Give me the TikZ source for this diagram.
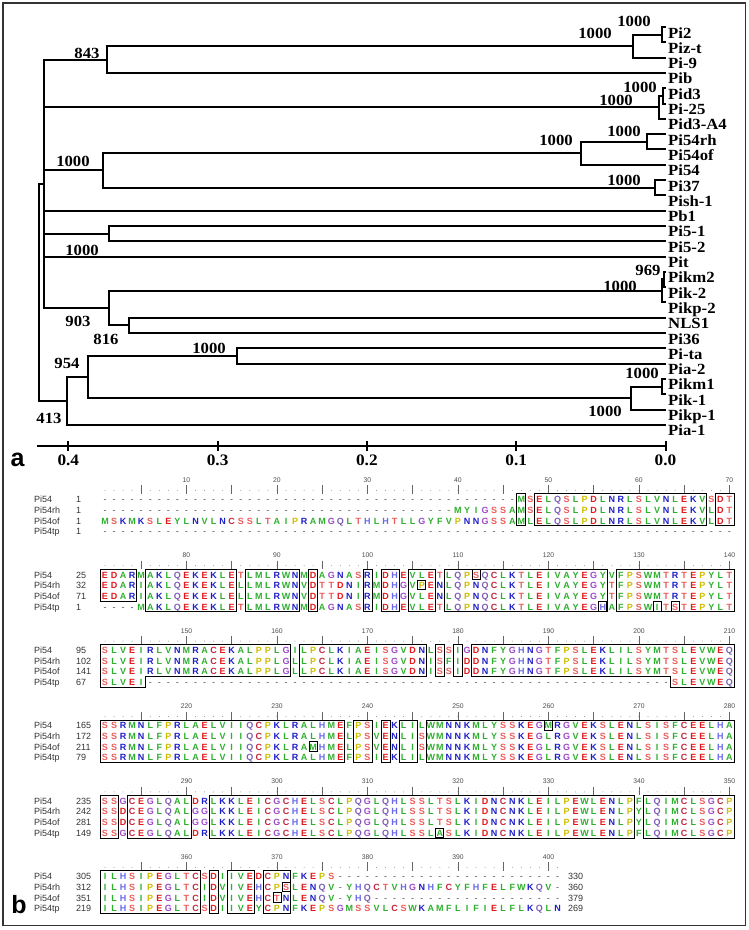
\documentclass[tikz,border=0pt]{standalone}
\usepackage{fontspec}
\setmainfont{Liberation Serif}
\setsansfont{Liberation Sans}
\definecolor{hgreen}{HTML}{2EAF2E}
\definecolor{acid}{HTML}{E3191C}
\definecolor{hydrox}{HTML}{EE5B5B}
\definecolor{basic}{HTML}{1E1EC8}
\colorlet{resA}{hgreen}\colorlet{resV}{hgreen}\colorlet{resL}{hgreen}\colorlet{resI}{hgreen}
\colorlet{resM}{hgreen}\colorlet{resF}{hgreen}\colorlet{resW}{hgreen}\colorlet{resY}{hgreen}
\colorlet{resD}{acid}\colorlet{resE}{acid}
\colorlet{resS}{hydrox}\colorlet{resT}{hydrox}
\colorlet{resK}{basic}\colorlet{resR}{basic}\colorlet{resN}{basic}
\definecolor{resQ}{HTML}{7D5DB5}
\definecolor{resH}{HTML}{6A6AE8}
\definecolor{resG}{HTML}{9C4CC8}
\definecolor{resP}{HTML}{CDBE00}
\definecolor{resC}{HTML}{C3283F}
\newcommand\sx[1]{\scalebox{1.08}[1]{#1}}
\newcount\colc
\def\seqloop#1{\ifx#1\relax\else\seqput#1\expandafter\seqloop\fi}
\def\seqput#1{\global\advance\colc by 1\relax\ifx#1-\gapput\else\resput#1\fi}
\def\resput#1{\node[resch,text=res#1] at ({105+(\the\colc-1)*9.05},\rowyb) {#1};}
\def\gapput{\node[gapch] at ({105+(\the\colc-1)*9.05},\rowyb) {-};}
\newcommand\Blk[1]{\pgfmathsetmacro\B{499.3+75.4*#1}}
\newcommand\seqat[3]{\pgfmathsetmacro\rowyb{\B+(#1-1)*10.7+3.3}\global\colc=\numexpr#2-1\relax\seqloop#3\relax}
\newcommand\gapsat[3]{\pgfmathsetmacro\rowyb{\B+(#1-1)*10.7+3.3}\foreach \cc in {#2,...,#3}{\node[gapch] at ({105+(\cc-1)*9.05},\rowyb) {-};}}
\newcommand\rowlab[3]{\pgfmathsetmacro\rowyb{\B+(#1-1)*10.7+3.3}\node[rname] at (34,\rowyb) {#2};\node[rname] at (76,\rowyb) {#3};}
\newcommand\tailnum[2]{\pgfmathsetmacro\rowyb{\B+(#1-1)*10.7+3.3}\node[rname] at (568,\rowyb) {#2};}
\newcommand\ruler[2]{%
 \foreach \cc in {1,...,#1}{\fill[rdot] ({105+(\cc-1)*9.05},{\B-9}) circle (0.5pt);}
 \foreach \cc in {5,10,...,#1}{\draw[rtick] ({105+(\cc-1)*9.05},{\B-14}) -- ({105+(\cc-1)*9.05},{\B-5.5});}
 \foreach \cc in {10,20,...,#1}{\node[rnum] at ({105+(\cc-1)*9.05},{\B-17}) {\the\numexpr#2+\cc\relax};}}
\newcommand\xl[1]{(105+(#1-1)*9.05-4.5)}
\newcommand\xr[1]{(105+(#1-1)*9.05+4.5)}
\newcommand\abox[4]{\draw[boxl] ({\xl{#1}},{\B+(#3-1)*10.7-5.5}) rectangle ({\xr{#2}},{\B+(#4-1)*10.7+5});}
\newcommand\obox[2]{\draw[boxl] ({105+(#1-1)*9.05-4},{\B+(#2-1)*10.7-5}) rectangle ({105+(#1-1)*9.05+4},{\B+(#2-1)*10.7+4.5});}
\begin{document}
\begin{tikzpicture}[x=1pt,y=-1pt,
 br/.style={line width=2pt,line cap=rect,line join=miter},
 leaf/.style={anchor=base west,inner sep=0,font=\fontsize{15.5}{15.5}\selectfont\bfseries},
 bs/.style={inner sep=0,font=\fontsize{15.5}{15.5}\selectfont\bfseries},
 axl/.style={inner sep=0,font=\fontsize{16}{16}\selectfont\bfseries},
 panel/.style={anchor=base,inner sep=0,font=\fontsize{25}{25}\selectfont\sffamily\bfseries},
 rname/.style={anchor=base west,inner sep=0,font=\fontsize{9}{9}\selectfont\sffamily,text=black!80},
 resch/.style={anchor=base,inner sep=0,font=\fontsize{9}{9}\selectfont\sffamily\bfseries},
 gapch/.style={anchor=base,inner sep=0,font=\fontsize{9}{9}\selectfont\sffamily,text=black!70},
 rnum/.style={anchor=base,inner sep=0,font=\fontsize{6.8}{6.8}\selectfont\sffamily,text=black!70},
 rdot/.style={fill=black!45},
 rtick/.style={draw=black!60,line width=0.6pt},
 boxl/.style={draw=black,line width=0.9pt}]
\useasboundingbox (0,0) rectangle (749,930);
\fill[white] (0,0) rectangle (749,930);
\draw[line width=1.3pt,black!80] (3,3) rectangle (745.5,925.5);
% ---------- tree ----------
\foreach \i in {0,...,26} \coordinate (l\i) at (665,{27+15.3*\i});
\foreach \t [count=\i from 0] in {Pi2,Piz-t,Pi-9,Pib,Pid3,Pi-25,Pid3-A4,Pi54rh,Pi54of,Pi54,Pi37,Pish-1,Pb1,Pi5-1,Pi5-2,Pit,Pikm2,Pik-2,Pikp-2,NLS1,Pi36,Pi-ta,Pia-2,Pikm1,Pik-1,Pikp-1,Pia-1}
  \node[leaf] (name\i) at (668,{27+15.3*\i+11}) {\sx{\t}};
\coordinate (nA) at (661.7,34.65);
\coordinate (nB) at (632.5,46.125);
\coordinate (n843) at (107.4,59.51);
\coordinate (nC) at (662.5,95.85);
\coordinate (nD) at (659.2,107.325);
\coordinate (nE) at (646.8,141.75);
\coordinate (nF) at (581.4,153.225);
\coordinate (nG) at (655,187.65);
\coordinate (nH) at (102.6,170.44);
\coordinate (nI) at (108.8,233.55);
\coordinate (nJ) at (663.8,279.45);
\coordinate (nK) at (662.3,290.925);
\coordinate (n816) at (128.9,325.35);
\coordinate (n903) at (108.8,308.14);
\coordinate (nU) at (44,183.8);
\coordinate (nL) at (237.2,355.95);
\coordinate (nM) at (661.7,386.55);
\coordinate (nN) at (631,398.03);
\coordinate (n954) at (88.3,376.99);
\coordinate (n413) at (66.8,400.9);
\coordinate (nR) at (39,292.35);
\draw[br] (l0) -- (nA |- l0) -- (nA |- l1) -- (l1);
\draw[br] (nA) -- (nB |- nA) -- (nB |- l2) -- (l2);
\draw[br] (nB) -- (n843 |- nB) -- (n843 |- l3) -- (l3);
\draw[br] (l4) -- (nC |- l4) -- (nC |- l5) -- (l5);
\draw[br] (nC) -- (nD |- nC) -- (nD |- l6) -- (l6);
\draw[br] (l7) -- (nE |- l7) -- (nE |- l8) -- (l8);
\draw[br] (nE) -- (nF |- nE) -- (nF |- l9) -- (l9);
\draw[br] (l10) -- (nG |- l10) -- (nG |- l11) -- (l11);
\draw[br] (nF) -- (nH |- nF) -- (nH |- nG) -- (nG);
\draw[br] (l13) -- (nI |- l13) -- (nI |- l14) -- (l14);
\draw[br] (l16) -- (nJ |- l16) -- (nJ |- l17) -- (l17);
\draw[br] (nJ) -- (nK |- nJ) -- (nK |- l18) -- (l18);
\draw[br] (l19) -- (n816 |- l19) -- (n816 |- l20) -- (l20);
\draw[br] (nK) -- (n903 |- nK) -- (n903 |- n816) -- (n816);
\draw[br] (nU |- n843) -- (nU |- n903);
\draw[br] (nU |- n843) -- (n843);
\draw[br] (nU |- nD) -- (nD);
\draw[br] (nU |- nH) -- (nH);
\draw[br] (nU |- l12) -- (l12);
\draw[br] (nU |- nI) -- (nI);
\draw[br] (nU |- l15) -- (l15);
\draw[br] (nU |- n903) -- (n903);
\draw[br] (l21) -- (nL |- l21) -- (nL |- l22) -- (l22);
\draw[br] (l23) -- (nM |- l23) -- (nM |- l24) -- (l24);
\draw[br] (nM) -- (nN |- nM) -- (nN |- l25) -- (l25);
\draw[br] (nL) -- (n954 |- nL) -- (n954 |- nN) -- (nN);
\draw[br] (n954) -- (n413 |- n954) -- (n413 |- l26) -- (l26);
\draw[br] (nU) -- (nR |- nU) -- (nR |- n413) -- (n413);
% bootstrap values
\node[bs] (bs1) at (634,21) {\sx{1000}};
\node[bs] (bs2) at (595,33) {\sx{1000}};
\node[bs] (bs3) at (87,53) {\sx{843}};
\node[bs] (bs4) at (640,87) {\sx{1000}};
\node[bs] (bs5) at (616,100) {\sx{1000}};
\node[bs] (bs6) at (624,131.7) {\sx{1000}};
\node[bs] (bs7) at (556,140) {\sx{1000}};
\node[bs] (bs8) at (624,180) {\sx{1000}};
\node[bs] (bs9) at (73,161.7) {\sx{1000}};
\node[bs] (bs10) at (82,250) {\sx{1000}};
\node[bs] (bs11) at (648,270) {\sx{969}};
\node[bs] (bs12) at (620,286.7) {\sx{1000}};
\node[bs] (bs13) at (78,321.7) {\sx{903}};
\node[bs] (bs14) at (106,339) {\sx{816}};
\node[bs] (bs15) at (209,348.3) {\sx{1000}};
\node[bs] (bs16) at (642,373.3) {\sx{1000}};
\node[bs] (bs17) at (605,411.7) {\sx{1000}};
\node[bs] (bs18) at (67,363.3) {\sx{954}};
\node[bs] (bs19) at (49,418.3) {\sx{413}};
% axis
\coordinate (ax0) at (38,446);
\coordinate (ax1) at (665.5,446);
\draw[br] (ax0) -- (ax1);
\foreach \v/\xx in {0.4/68.3,0.3/217.6,0.2/366.9,0.1/516.2,0.0/665.5}{
  \draw[br] (\xx,442) -- (\xx,450);
  \node[axl] at (\xx,460) {\sx{\v}};}
\node[panel] (pa) at (17.5,466.5) {a};
\node[panel] (pb) at (19,913) {b};
% ---------- alignment ----------
% block 1
\Blk{0}\ruler{70}{0}
\rowlab{1}{Pi54}{1}\rowlab{2}{Pi54rh}{1}\rowlab{3}{Pi54of}{1}\rowlab{4}{Pi54tp}{1}
\gapsat{1}{1}{46}\seqat{1}{47}{MSELQSLPDLNRLSLVNLEKVSDT}
\gapsat{2}{1}{39}\seqat{2}{40}{MYIGSSAMSELQSLPDLNRLSLVNLEKVLDT}
\seqat{3}{1}{MSKMKSLEYLNVLNCSSLTAIPRAMGQLTHLHTLLGYFVPNNGSSAMLELQSLPDLNRLSLVNLEKVLDT}
\gapsat{4}{1}{70}
\abox{47}{47}{1}{3}\abox{49}{67}{1}{3}\abox{69}{70}{1}{3}
% block 2
\Blk{1}\ruler{70}{70}
\rowlab{1}{Pi54}{25}\rowlab{2}{Pi54rh}{32}\rowlab{3}{Pi54of}{71}\rowlab{4}{Pi54tp}{1}
\seqat{1}{1}{EDARMAKLQEKEKLETLMLRWNMDAGNASRIDHEVLETLQPSQCLKTLEIVAYEGYVFPSWMTRTEPYLT}
\seqat{2}{1}{EDARIAKLQEKEKLELLMLRWNVDTTDNIRMDHGVPENLQPNQCLKTLEIVAYEGYTFPSWMTRTEPYLT}
\seqat{3}{1}{EDARIAKLQEKEKLELLMLRWNVDTTDNIRMDHGVLENLQPNQCLKTLEIVAYEGYTFPSWMTRTEPYLT}
\gapsat{4}{1}{4}\seqat{4}{5}{MAKLQEKEKLETLMLRWNMDAGNASRIDHEVLETLQPNQCLKTLEIVAYEGHAFPSWITSTEPYLT}
\abox{1}{4}{1}{3}\abox{6}{15}{1}{4}\abox{17}{22}{1}{4}\abox{24}{24}{1}{4}\abox{30}{30}{1}{4}
\abox{32}{33}{1}{4}\abox{35}{37}{1}{4}\abox{39}{56}{1}{4}\abox{58}{70}{1}{4}
\obox{36}{2}\obox{42}{1}\obox{56}{4}\obox{62}{4}\obox{64}{4}
% block 3
\Blk{2}\ruler{70}{140}
\rowlab{1}{Pi54}{95}\rowlab{2}{Pi54rh}{102}\rowlab{3}{Pi54of}{141}\rowlab{4}{Pi54tp}{67}
\seqat{1}{1}{SLVEIRLVNMRACEKALPPLGILPCLKIAEISGVDNLSSIGDNFYGHNGTFPSLEKLILSYMTSLEVWEQ}
\seqat{2}{1}{SLVEIRLVNMRACEKALPPLGLLPCLKIAEISGVDNISFIDDNFYGHNGTFPSLEKLILSYMTSLEVWEQ}
\seqat{3}{1}{SLVEIRLVNMRACEKALPPLGLLPCLKIAEISGVDNISSIDDNFYGHNGTFPSLEKLILSYMTSLEVWEQ}
\seqat{4}{1}{SLVEI}\gapsat{4}{6}{63}\seqat{4}{64}{SLEVWEQ}
\draw[boxl] ({\xl{1}},{\B-5.5}) -- ({\xr{21}},{\B-5.5}) -- ({\xr{21}},{\B+26.4}) -- ({\xr{5}},{\B+26.4}) -- ({\xr{5}},{\B+37.1}) -- ({\xl{1}},{\B+37.1}) -- cycle;
\abox{23}{36}{1}{3}\abox{38}{38}{1}{3}\abox{40}{40}{1}{3}
\draw[boxl] ({\xl{42}},{\B-5.5}) -- ({\xr{70}},{\B-5.5}) -- ({\xr{70}},{\B+37.1}) -- ({\xl{64}},{\B+37.1}) -- ({\xl{64}},{\B+26.4}) -- ({\xl{42}},{\B+26.4}) -- cycle;
% block 4
\Blk{3}\ruler{70}{210}
\rowlab{1}{Pi54}{165}\rowlab{2}{Pi54rh}{172}\rowlab{3}{Pi54of}{211}\rowlab{4}{Pi54tp}{79}
\seqat{1}{1}{SSRMNLFPRLAELVIIQCPKLRALHMEFPSIEKLILWMNNKMLYSSKEGMRGVEKSLENLSISFCEELHA}
\seqat{2}{1}{SSRMNLFPRLAELVIIQCPKLRALHMELPSVENLISWMNNKMLYSSKEGLRGVEKSLENLSISFCEELHA}
\seqat{3}{1}{SSRMNLFPRLAELVIIQCPKLRAMHMELPSVENLISWMNNKMLYSSKEGLRGVEKSLENLSISFCEELHA}
\seqat{4}{1}{SSRMNLFPRLAELVIIQCPKLRALHMEFPSIEKLILWMNNKMLYSSKEGLRGVEKSLENLSISFCEELHA}
\abox{1}{27}{1}{4}\abox{29}{30}{1}{4}\abox{32}{32}{1}{4}\abox{34}{35}{1}{4}\abox{37}{70}{1}{4}
\obox{24}{3}\obox{50}{1}
% block 5
\Blk{4}\ruler{70}{280}
\rowlab{1}{Pi54}{235}\rowlab{2}{Pi54rh}{242}\rowlab{3}{Pi54of}{281}\rowlab{4}{Pi54tp}{149}
\seqat{1}{1}{SSGCEGLQALDRLKKLEICGCHELSCLPQGLQHLSSLTSLKIDNCNKLEILPEWLENLPFLQIMCLSGCP}
\seqat{2}{1}{SSDCEGLQALGGLKKLEICGCHELSCLPQGLQHLSSLTSLKIDNCNKLEILPEWLENLPYLQIMCLSGCP}
\seqat{3}{1}{SSDCEGLQALGGLKKLEICGCHELSCLPQGLQHLSSLTSLKIDNCNKLEILPEWLENLPYLQIMCLSGCP}
\seqat{4}{1}{SSGCEGLQALDRLKKLEICGCHELSCLPQGLQHLSSLASLKIDNCNKLEILPEWLENLPFLQIMCLSGCP}
\abox{1}{2}{1}{4}\abox{4}{10}{1}{4}\abox{13}{59}{1}{4}\abox{61}{70}{1}{4}
\obox{38}{4}
% block 6
\Blk{5}\ruler{51}{350}
\rowlab{1}{Pi54}{305}\rowlab{2}{Pi54rh}{312}\rowlab{3}{Pi54of}{351}\rowlab{4}{Pi54tp}{219}
\seqat{1}{1}{ILHSIPEGLTCSDIIVEDCPNFKEPS}\gapsat{1}{27}{51}
\seqat{2}{1}{ILHSIPEGLTCIDVIVEHCPSLENQV-YHQCTVHGNHFCYFHFELFWKQV-}
\seqat{3}{1}{ILHSIPEGLTCIDVIVEHCTNLENQV-YHQ}\gapsat{3}{31}{51}
\seqat{4}{1}{ILHSIPEGLTCSDIIVEYCPNFKEPSGMSSVLCSWKAMFLIFIELFLKQLN}
\tailnum{1}{330}\tailnum{2}{360}\tailnum{3}{379}\tailnum{4}{269}
\abox{1}{11}{1}{4}\abox{13}{13}{1}{4}\abox{15}{17}{1}{4}\abox{19}{21}{1}{4}
\obox{20}{3}\obox{21}{2}
\end{tikzpicture}
\end{document}
